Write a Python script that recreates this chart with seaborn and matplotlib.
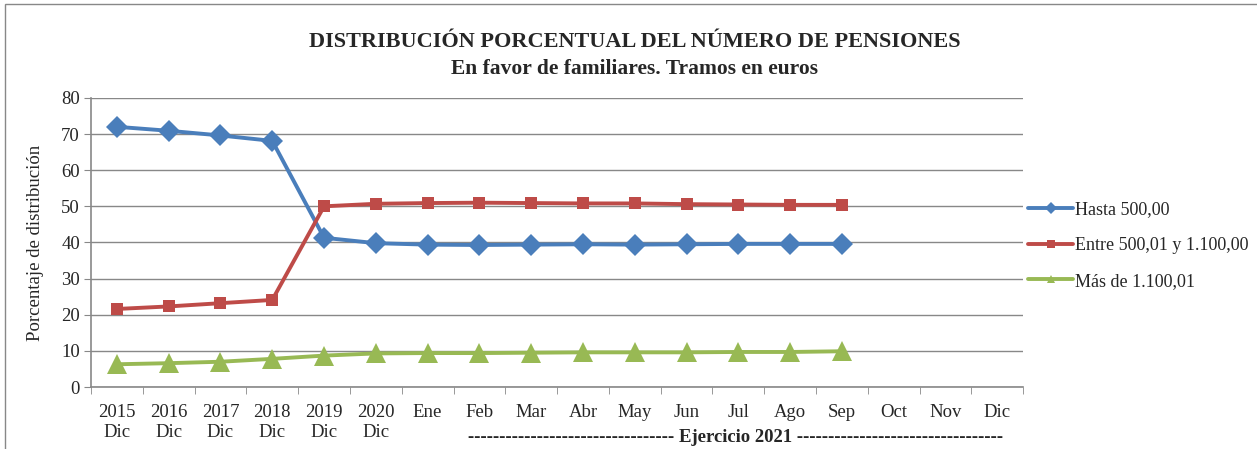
import seaborn as sns
import matplotlib.pyplot as plt
import pandas as pd
import numpy as np
from matplotlib.patches import Rectangle

# Values
periods = ['2015\nDic', '2016\nDic', '2017\nDic', '2018\nDic', '2019\nDic', '2020\nDic',
           'Ene', 'Feb', 'Mar', 'Abr', 'May', 'Jun', 'Jul', 'Ago', 'Sep', 'Oct', 'Nov', 'Dic']
hasta_500 = [72.0, 70.9, 69.6, 68.1, 41.3, 39.8, 39.4, 39.3, 39.4, 39.5, 39.4, 39.5, 39.6, 39.6, 39.6]
entre_500_1100 = [21.6, 22.3, 23.2, 24.1, 50.0, 50.7, 50.9, 51.0, 50.9, 50.8, 50.8, 50.6, 50.5, 50.4, 50.4]
mas_1100 = [6.3, 6.6, 7.0, 7.8, 8.7, 9.3, 9.4, 9.4, 9.5, 9.6, 9.6, 9.6, 9.7, 9.7, 9.9]
series_names = ['Hasta 500,00', 'Entre 500,01 y 1.100,00', 'Más de 1.100,01']

rows = []
for name, vals in zip(series_names, [hasta_500, entre_500_1100, mas_1100]):
    for i, v in enumerate(vals):
        rows.append({'x': i, 'valor': v, 'serie': name})
df = pd.DataFrame(rows)

sns.set_style("white")
plt.rcParams['font.family'] = ['Liberation Serif', 'DejaVu Serif']

fig = plt.figure(figsize=(12.57, 4.49), dpi=100)
ax = fig.add_axes([0.0724, 0.138, 0.7416, 0.644])

colors = ['#4A7EBB', '#BE4B48', '#98B954']
sns.lineplot(data=df, x='x', y='valor', hue='serie', style='serie',
             markers=['D', 's', '^'], dashes=False, palette=colors,
             linewidth=2.8, markersize=9, markeredgewidth=0, ax=ax)
# Excel-like marker sizes: triangles drawn larger
ax.lines[0].set_markersize(11)
ax.lines[1].set_markersize(9)
ax.lines[2].set_markersize(14)

ax.set_xlim(-0.5, len(periods) - 0.5)
ax.set_ylim(0, 80)
ax.set_yticks(range(0, 81, 10))
ax.yaxis.grid(True, color='#888888', linewidth=1)
ax.set_axisbelow(True)

ax.set_xticks(range(len(periods)))
ax.set_xticklabels(periods, fontsize=13.5, linespacing=1.25)
ax.set_xticks(np.arange(-0.5, len(periods)), minor=True)
ax.tick_params(axis='x', which='major', length=0, pad=12)
ax.tick_params(axis='x', which='minor', length=5, color='#888888', direction='out', bottom=True)
ax.tick_params(axis='y', length=5, color='#888888', direction='out', left=True, labelsize=13.5, pad=3)

for s in ['top', 'right']:
    ax.spines[s].set_visible(False)
for s in ['left', 'bottom']:
    ax.spines[s].set_color('#888888')
    ax.spines[s].set_linewidth(1.2)

ax.set_xlabel('')
ax.set_ylabel('Porcentaje de distribución', fontsize=13.5)
ax.yaxis.set_label_coords(-0.050, 0.5)

fig.text(0.505, 0.906, 'DISTRIBUCIÓN PORCENTUAL DEL NÚMERO DE PENSIONES',
         ha='center', va='center', fontsize=16, fontweight='bold')
fig.text(0.505, 0.847, 'En favor de familiares. Tramos en euros',
         ha='center', va='center', fontsize=15.5, fontweight='bold')

fig.text(0.585, 0.025, '-' * 33 + ' Ejercicio 2021 ' + '-' * 33,
         ha='center', va='center', fontsize=13.5, fontweight='bold')

handles, labels = ax.get_legend_handles_labels()
leg = ax.legend(handles, labels, loc='center left', bbox_to_anchor=(0.988, 0.49),
                frameon=False, fontsize=13, labelspacing=1.05, handlelength=2.5,
                handletextpad=0.1, markerscale=0.65)

fig.patches.append(Rectangle((0.004, -0.05), 1.2, 1.04, transform=fig.transFigure,
                             fill=False, edgecolor='#888888', linewidth=1))

plt.savefig('out.png', dpi=100)
